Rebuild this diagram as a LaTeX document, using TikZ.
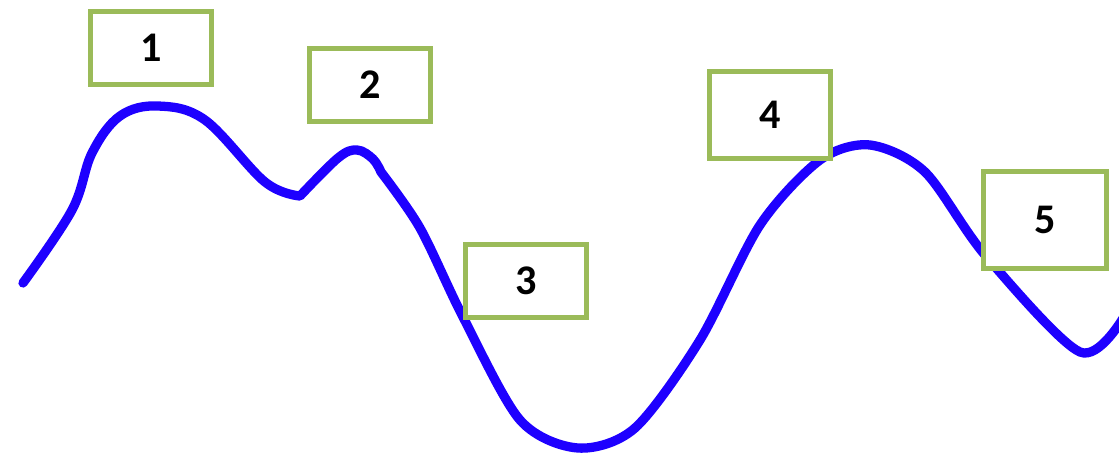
\documentclass[tikz,border=0pt]{standalone}
\usepackage{fontspec}
\newfontfamily\numfont{Carlito}
\usepackage{tikz}
\usetikzlibrary{positioning}
\usepackage{xcolor}
\definecolor{waveblue}{RGB}{30,0,255}
\definecolor{boxgreen}{RGB}{155,187,89}

\begin{document}
\begin{tikzpicture}[x=0.025cm, y=-0.025cm,
    numbox/.style={rectangle, draw=boxgreen, line width=3.6pt, fill=white,
                   inner sep=0pt, minimum width=3.03cm, minimum height=1.83cm,
                   font=\numfont\bfseries\fontsize{30}{32}\selectfont},
    wave/.style={draw=waveblue, line width=6.6pt, line cap=round, line join=round}
]
\useasboundingbox (0,0) rectangle (1119,454);

% The wave (three pieces, joined at the two kinks)
\draw[wave] plot[smooth, tension=0.6] coordinates {
    (23,283) (72,210) (92,153) (120,116) (158,106) (205,120)
    (265,182) (300,196)}
  -- plot[smooth, tension=0.6] coordinates {
    (300,196) (338,158) (357,150) (373,159) (381,172)}
  -- plot[smooth, tension=0.5] coordinates {
    (381,172) (420,228) (463,317) (520,420) (578,448) (635,428)
    (700,340) (760,225) (820,160) (870,145) (925,172) (985,255)
    (1080,352) (1125,315)};

% Numbered boxes
\node[numbox] (n1) at (151,48) {1};
\node[numbox] (n2) at (370,85) {2};
\node[numbox] (n3) at (526,281) {3};
\node[numbox, minimum height=2.18cm] (n4) at (770,115) {4};
\node[numbox, minimum width=3.06cm, minimum height=2.43cm] (n5) at (1045,220) {5};

\end{tikzpicture}
\end{document}
